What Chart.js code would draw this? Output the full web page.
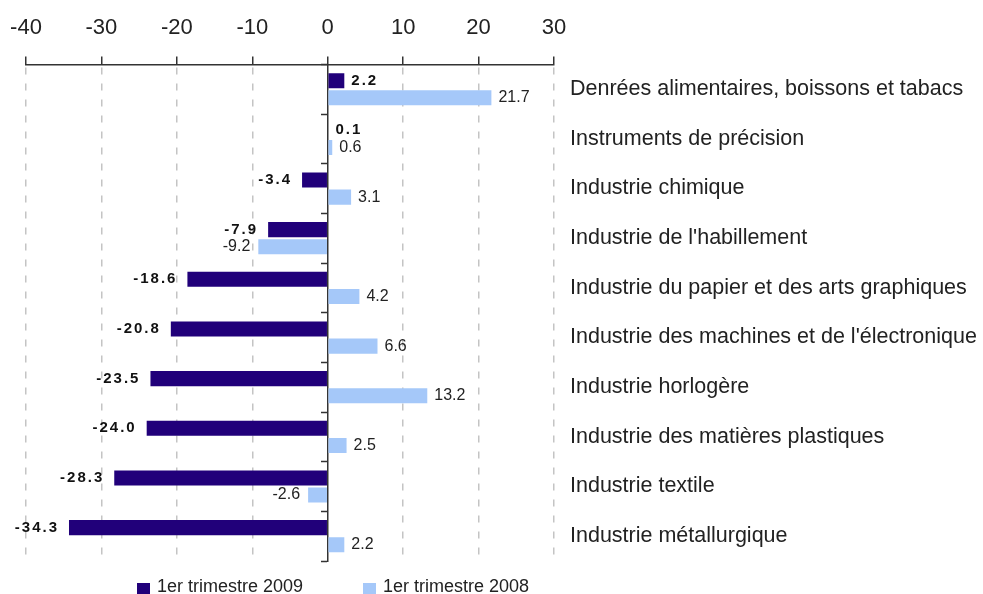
<!DOCTYPE html>
<html lang="fr">
<head>
  <meta charset="UTF-8">
  <title>Industries par branche</title>
  <script src="https://cdn.jsdelivr.net/npm/chart.js"></script>
  <style>
    html, body { margin: 0; padding: 0; background: #fff; }
  </style>
</head>
<body>
  <canvas id="chart" width="983" height="594"></canvas>

  <script>
    // Données
    const categories = [
      "Denrées alimentaires, boissons et tabacs",
      "Instruments de précision",
      "Industrie chimique",
      "Industrie de l'habillement",
      "Industrie du papier et des arts graphiques",
      "Industrie des machines et de l'électronique",
      "Industrie horlogère",
      "Industrie des matières plastiques",
      "Industrie textile",
      "Industrie métallurgique"
    ];
    const trim2009 = [2.2, 0.1, -3.4, -7.9, -18.6, -20.8, -23.5, -24.0, -28.3, -34.3];
    const trim2008 = [21.7, 0.6, 3.1, -9.2, 4.2, 6.6, 13.2, 2.5, -2.6, 2.2];
    const seriesNames = ["1er trimestre 2009", "1er trimestre 2008"];
    const xMin = -40, xMax = 30, xStep = 10;

    const FONT = '"Liberation Sans", Arial, sans-serif';

    // étiquettes de valeurs au bout des barres
    const barLabels = {
      id: "barLabels",
      afterDatasetsDraw(chart) {
        const ctx = chart.ctx;
        chart.data.datasets.forEach((ds, i) => {
          chart.getDatasetMeta(i).data.forEach((bar, j) => {
            const v = ds.data[j];
            const txt = v.toFixed(1);
            ctx.save();
            if (i === 0) {
              ctx.font = "bold 15px " + FONT;
              ctx.letterSpacing = "2px";
              ctx.fillStyle = "#111";
            } else {
              ctx.font = "16px " + FONT;
              ctx.fillStyle = "#222";
            }
            ctx.textBaseline = "middle";
            if (v >= 0) {
              ctx.textAlign = "left";
              ctx.fillText(txt, bar.x + 7, bar.y);
            } else {
              ctx.textAlign = "right";
              ctx.fillText(txt, bar.x - (i === 0 ? 10 : 8), bar.y);
            }
            ctx.restore();
          });
        });
      }
    };

    // légende en bas
    const bottomLegend = {
      id: "bottomLegend",
      afterDraw(chart) {
        const ctx = chart.ctx;
        const starts = [137, 363];
        ctx.save();
        chart.data.datasets.forEach((ds, i) => {
          ctx.fillStyle = ds.backgroundColor;
          ctx.fillRect(starts[i], 583, 13, 12);
          ctx.font = "18px " + FONT;
          ctx.fillStyle = "#222";
          ctx.textBaseline = "middle";
          ctx.textAlign = "left";
          ctx.fillText(ds.label, starts[i] + 20, 587);
        });
        ctx.restore();
      }
    };

    new Chart(document.getElementById("chart").getContext("2d"), {
      type: "bar",
      data: {
        labels: categories,
        datasets: [
          {
            label: seriesNames[0],
            data: trim2009,
            backgroundColor: "#21007a",
            categoryPercentage: 0.69,
            barPercentage: 0.88
          },
          {
            label: seriesNames[1],
            data: trim2008,
            backgroundColor: "#a5c8f9",
            categoryPercentage: 0.69,
            barPercentage: 0.88
          }
        ]
      },
      options: {
        indexAxis: "y",
        responsive: false,
        animation: false,
        layout: { padding: { left: 26, top: 0, bottom: 33, right: 0 } },
        plugins: {
          legend: { display: false },
          tooltip: { enabled: false }
        },
        scales: {
          x: {
            position: "top",
            min: xMin,
            max: xMax,
            ticks: {
              stepSize: xStep,
              padding: 15,
              color: "#222",
              font: { family: FONT, size: 22 }
            },
            grid: {
              color: c => (c.tick && c.tick.value === 0 ? "rgba(0,0,0,0)" : "#c4c4c4"),
              lineWidth: 1.5,
              tickLength: 8,
              tickColor: "#333",
              tickWidth: 1.5,
              tickBorderDash: []
            },
            border: { color: "#333", width: 1.5, dash: [7, 9], dashOffset: -2 },
            afterFit(scale) { scale.paddingLeft = 0; scale.paddingRight = 0; }
          },
          y: {
            type: "category",
            position: { x: 0 },
            offset: true,
            ticks: { display: false },
            grid: {
              offset: true,
              drawOnChartArea: false,
              tickLength: 6,
              tickColor: "#333",
              tickWidth: 1.5
            },
            border: { color: "#333", width: 1.5 }
          },
          y2: {
            type: "category",
            position: "right",
            offset: true,
            labels: categories,
            grid: { display: false, drawTicks: false },
            border: { display: false },
            ticks: {
              padding: 16,
              autoSkip: false,
              color: "#222",
              font: { family: FONT, size: 21.5 }
            },
            afterFit(scale) { scale.width = 429; }
          }
        }
      },
      plugins: [barLabels, bottomLegend]
    });
  </script>
</body>
</html>
